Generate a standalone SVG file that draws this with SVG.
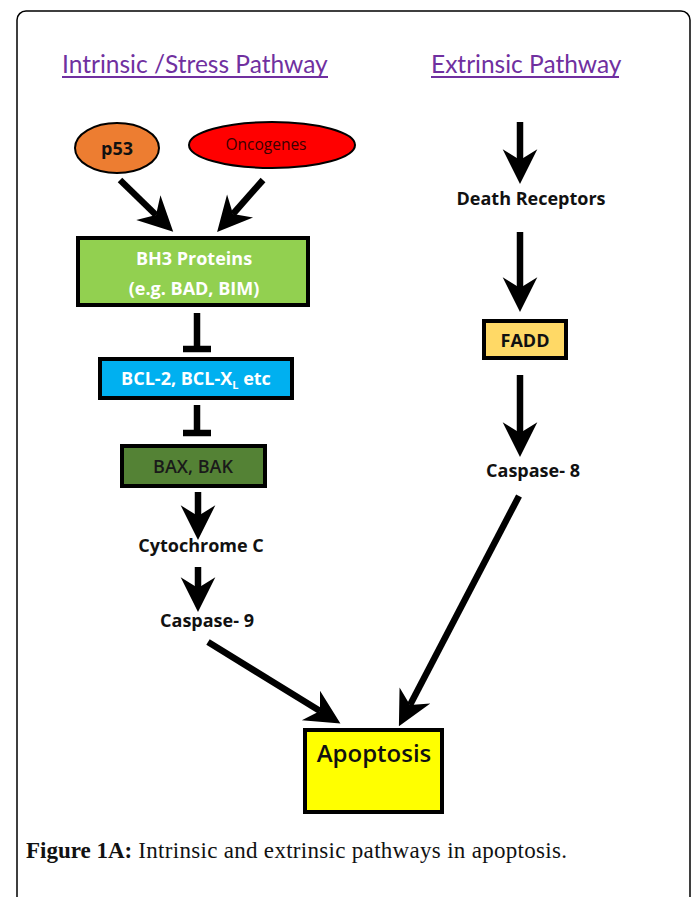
<svg xmlns="http://www.w3.org/2000/svg" width="695" height="897" viewBox="0 0 695 897">
<style>
.title{font-family:Lato,"Open Sans",sans-serif;font-size:24.5px;fill:#7030A0}
.ul{stroke:#7030A0;stroke-width:2}
.box{stroke:#000;stroke-width:4}
.lbl{font-family:"Open Sans",Lato,sans-serif;font-size:18px;font-weight:bold;text-anchor:middle}
.wt{fill:#fff}
.bk{fill:#111}
.conn{stroke:#000;stroke-width:6.5;fill:none}
.cap{font-family:"Liberation Serif","Times New Roman",serif;font-size:23px;fill:#111}
</style>
<defs>
<marker id="ah" markerUnits="userSpaceOnUse" markerWidth="40" markerHeight="40" viewBox="-10 -15 30 30" refX="0" refY="0" orient="auto">
<path d="M18,0 L-8,-13 L0,0 L-8,13 Z" fill="#000"/>
</marker>
</defs>
<rect x="0" y="0" width="695" height="897" fill="#fff"/>
<rect x="17" y="11" width="673" height="920" rx="9" fill="none" stroke="#000" stroke-width="1.5"/>

<g id="title-intrinsic">
<text class="title" x="62" y="73">Intrinsic /Stress Pathway</text>
<line class="ul" x1="62" y1="77" x2="328" y2="77"/>
</g>
<g id="title-extrinsic">
<text class="title" x="431" y="73">Extrinsic Pathway</text>
<line class="ul" x1="431" y1="77" x2="619" y2="77"/>
</g>

<g id="p53">
<ellipse cx="117" cy="148" rx="42" ry="25" fill="#ED7D31" stroke="#000" stroke-width="2"/>
<text class="lbl bk" x="117" y="155">p53</text>
</g>
<g id="oncogenes">
<ellipse cx="272" cy="145" rx="83" ry="23" fill="#FF0000" stroke="#000" stroke-width="2"/>
<text x="266" y="150" text-anchor="middle" style="font-family:'Open Sans',Lato,sans-serif;font-size:15.5px;fill:#3a0000">Oncogenes</text>
</g>
<g id="bh3">
<rect class="box" x="78" y="238" width="230" height="67" fill="#92D050"/>
<text class="lbl wt" x="194" y="265">BH3 Proteins</text>
<text class="lbl wt" x="194" y="295">(e.g. BAD, BIM)</text>
</g>
<g id="bcl2">
<rect class="box" x="100" y="359" width="192" height="39" fill="#00B0F0"/>
<text class="lbl wt" x="196" y="385">BCL-2, BCL-X<tspan font-size="11" dy="4">L</tspan><tspan dy="-4"> etc</tspan></text>
</g>
<g id="baxbak">
<rect class="box" x="122" y="446" width="143" height="40" fill="#548235"/>
<text class="lbl" x="193" y="473" style="fill:#1a1a1a;font-weight:600">BAX, BAK</text>
</g>
<g id="cytc">
<text class="lbl bk" x="201" y="552">Cytochrome C</text>
</g>
<g id="casp9">
<text class="lbl bk" x="207" y="627">Caspase- 9</text>
</g>
<g id="apoptosis">
<rect class="box" x="305" y="730" width="137" height="82" fill="#FFFF00"/>
<text x="374" y="762" text-anchor="middle" style="font-family:'Open Sans',Lato,sans-serif;font-size:24px;font-weight:600;fill:#111">Apoptosis</text>
</g>
<g id="death-receptors">
<text class="lbl bk" x="531" y="205">Death Receptors</text>
</g>
<g id="fadd">
<rect class="box" x="484" y="321" width="82" height="37" fill="#FFD966"/>
<text class="lbl bk" x="525" y="347">FADD</text>
</g>
<g id="casp8">
<text class="lbl bk" x="533" y="477">Caspase- 8</text>
</g>

<g id="connectors">
<line class="conn" x1="120" y1="180" x2="156" y2="215" marker-end="url(#ah)"/>
<line class="conn" x1="263" y1="180" x2="233" y2="214" marker-end="url(#ah)"/>
<line class="conn" x1="197" y1="313" x2="197" y2="349"/>
<line class="conn" x1="183" y1="349" x2="211" y2="349"/>
<line class="conn" x1="197" y1="405" x2="197" y2="433"/>
<line class="conn" x1="183" y1="433" x2="211" y2="433"/>
<line class="conn" x1="198" y1="492" x2="198" y2="516" marker-end="url(#ah)"/>
<line class="conn" x1="198" y1="567" x2="198" y2="588" marker-end="url(#ah)"/>
<line class="conn" x1="208" y1="642" x2="320" y2="711" marker-end="url(#ah)"/>
<line class="conn" x1="519" y1="496" x2="410" y2="705" marker-end="url(#ah)"/>
<line class="conn" x1="520" y1="122" x2="520" y2="160" marker-end="url(#ah)"/>
<line class="conn" x1="520" y1="232" x2="520" y2="288" marker-end="url(#ah)"/>
<line class="conn" x1="520" y1="375" x2="520" y2="433" marker-end="url(#ah)"/>
</g>

<g id="caption">
<text class="cap" x="26" y="858"><tspan font-weight="bold">Figure 1A:</tspan><tspan letter-spacing="0.3"> Intrinsic and extrinsic pathways in apoptosis.</tspan></text>
</g>
</svg>
